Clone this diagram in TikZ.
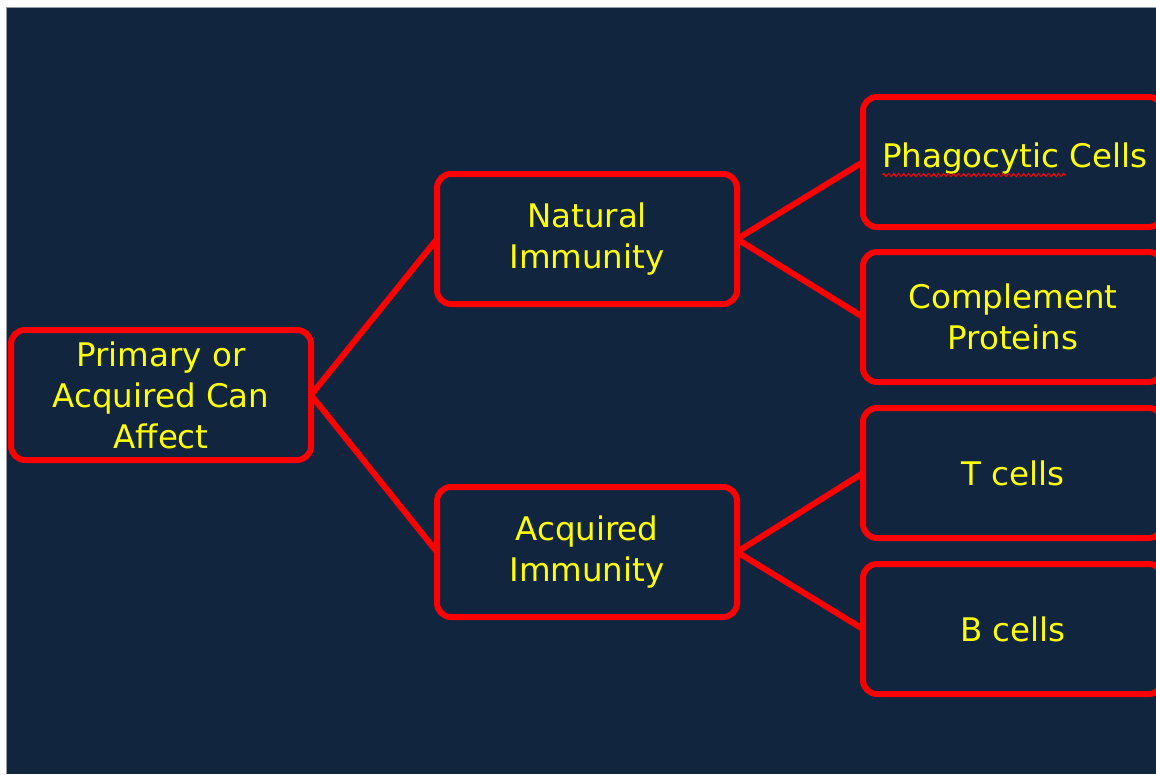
\documentclass[tikz,border=0pt]{standalone}
\usepackage{fontspec}
\setmainfont{DejaVu Sans}
\usetikzlibrary{decorations.pathmorphing}
\definecolor{navy}{RGB}{18,37,63}
\definecolor{boxred}{RGB}{255,0,0}
\definecolor{txtyellow}{RGB}{255,255,0}
\definecolor{edgegrey}{RGB}{150,155,165}
\tikzset{
  box/.style={draw=boxred, line width=6pt, rounded corners=14pt, fill=navy,
    minimum width=300pt, minimum height=130pt, outer sep=0pt, inner sep=0pt,
    text=txtyellow, align=center,
    font=\fontsize{32.5}{41}\selectfont},
  link/.style={draw=boxred, line width=6pt, line cap=round}
}
\begin{document}
\begin{tikzpicture}[x=1pt,y=-1pt]
\useasboundingbox (0,0) rectangle (1156,774);
\fill[white] (0,0) rectangle (1156,774);
\fill[edgegrey] (6,7) rectangle (1156,774);
\fill[navy] (7,8) rectangle (1156,774);
\clip (7,8) rectangle (1156,774);
\node[box] (root) at (161,395) {Primary or\\Acquired Can\\Affect};
\node[box] (nat) at (587,239) {Natural\\Immunity};
\node[box] (acq) at (587,552) {Acquired\\Immunity};
\node[box] (phago) at (1013,162) {\phantom{x}};
\node[box] (comp) at (1013,317) {Complement\\Proteins};
\node[box] (tc) at (1013,473) {T cells};
\node[box] (bc) at (1013,629) {B cells};
\node[text=txtyellow, font=\fontsize{32.5}{41}\selectfont, anchor=west, inner sep=0pt] (phagotext) at (882,159) {Phagocytic Cells};
\coordinate (sqa) at ([yshift=-16pt]phagotext.west);
\coordinate (sqb) at ([xshift=184pt,yshift=-16pt]phagotext.west);
\draw[boxred, line width=1pt, decorate, decoration={snake, amplitude=1.6pt, segment length=5pt}] (sqa) -- (sqb);
\draw[link] (root.east) -- (nat.west);
\draw[link] (root.east) -- (acq.west);
\draw[link] (nat.east) -- (phago.west);
\draw[link] (nat.east) -- (comp.west);
\draw[link] (acq.east) -- (tc.west);
\draw[link] (acq.east) -- (bc.west);
\end{tikzpicture}
\end{document}
